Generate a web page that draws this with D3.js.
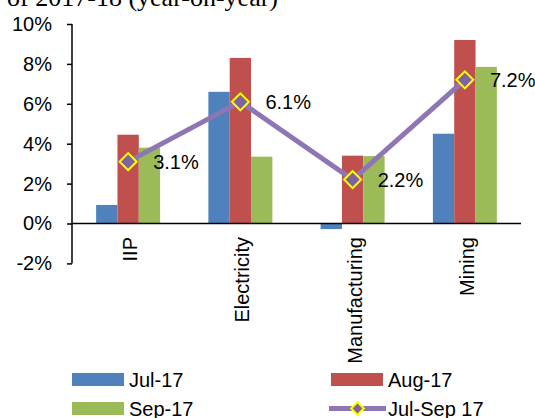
<!DOCTYPE html>
<html>
<head>
<meta charset="utf-8">
<script src="https://cdn.jsdelivr.net/npm/d3@7"></script>
<style>
  body { margin: 0; background: #fff; }
  svg { display: block; font-family: "Liberation Sans", Arial, sans-serif; }
</style>
</head>
<body>
<svg class="chart"></svg>
<script>
var svgWidth = 535, svgHeight = 418;

var categories = ['IIP', 'Electricity', 'Manufacturing', 'Mining'];
var jul17 = [0.93, 6.6, -0.28, 4.5];
var aug17 = [4.45, 8.3, 3.4, 9.2];
var sep17 = [3.8, 3.35, 3.38, 7.85];
var julSep17 = [3.1, 6.1, 2.2, 7.2];
var yTicks = [-2, 0, 2, 4, 6, 8, 10];

var barSeries = [
  { name: 'Jul-17', values: jul17, color: '#4F81BD' },
  { name: 'Aug-17', values: aug17, color: '#C0504D' },
  { name: 'Sep-17', values: sep17, color: '#9BBB59' }
];
var lineColor = '#8E76B4', markerFill = '#7F63A1', markerStroke = '#FFFF00';

var svg = d3.select('svg.chart').attr('width', svgWidth).attr('height', svgHeight);

// title, cut at the top of the picture
svg.append('text')
    .attr('x', 278).attr('y', 6)
    .attr('text-anchor', 'end')
    .attr('font-family', '"Liberation Serif", "Times New Roman", serif')
    .attr('font-size', 26)
    .text('Growth in Q2 of 2017-18 (year-on-year)');

var x0 = d3.scaleBand().domain(categories).range([72, 521]);
var x1 = d3.scaleBand().domain(barSeries.map(function(d) { return d.name; }))
    .range([-32, 32]);
var y = d3.scaleLinear().domain([-2, 10]).range([263.4, 24]);

// bars
svg.append('g').selectAll('g')
    .data(barSeries)
    .enter()
    .append('g')
    .attr('fill', function(d) { return d.color; })
    .selectAll('rect')
    .data(function(s) { return s.values.map(function(v, i) { return { s: s.name, c: categories[i], v: v }; }); })
    .enter()
    .append('rect')
    .attr('x', function(d) { return x0(d.c) + x0.bandwidth() / 2 + x1(d.s); })
    .attr('width', x1.bandwidth())
    .attr('y', function(d) { return y(Math.max(0, d.v)); })
    .attr('height', function(d) { return Math.abs(y(d.v) - y(0)); });

// y axis
var yAxis = d3.axisLeft(y)
    .tickValues(yTicks)
    .tickSize(5)
    .tickPadding(15)
    .tickFormat(function(d) { return d + '%'; });
var gy = svg.append('g').attr('transform', 'translate(72,0)').call(yAxis);
gy.select('.domain').attr('stroke', '#000').attr('stroke-width', 1.5).attr('d', 'M0,' + y(-2) + 'V' + y(10));
gy.selectAll('.tick line').attr('stroke', '#000').attr('stroke-width', 1.5);
gy.selectAll('.tick text').attr('font-size', 20).attr('fill', '#000')
    .attr('font-family', '"Liberation Sans", Arial, sans-serif');

// x axis at zero
svg.append('line')
    .attr('x1', 72).attr('x2', 521)
    .attr('y1', y(0)).attr('y2', y(0))
    .attr('stroke', '#000').attr('stroke-width', 1.5);

svg.append('g').selectAll('text')
    .data(categories)
    .enter()
    .append('text')
    .attr('transform', function(d) { return 'translate(' + (x0(d) + x0.bandwidth() / 2 + 2) + ',237) rotate(-90)'; })
    .attr('text-anchor', 'end')
    .attr('dy', '0.35em')
    .attr('font-size', 20)
    .text(function(d) { return d; });

// line series
var pts = julSep17.map(function(v, i) { return { c: categories[i], v: v }; });
var line = d3.line()
    .x(function(d) { return x0(d.c) + x0.bandwidth() / 2; })
    .y(function(d) { return y(d.v); });

svg.append('path')
    .datum(pts)
    .attr('d', line)
    .attr('fill', 'none')
    .attr('stroke', lineColor)
    .attr('stroke-width', 5);

var diamond = d3.symbol().type(d3.symbolSquare).size(144);
svg.append('g').selectAll('path')
    .data(pts)
    .enter()
    .append('path')
    .attr('d', diamond)
    .attr('transform', function(d) { return 'translate(' + (x0(d.c) + x0.bandwidth() / 2) + ',' + y(d.v) + ') rotate(45)'; })
    .attr('fill', markerFill)
    .attr('stroke', markerStroke)
    .attr('stroke-width', 2);

svg.append('g').selectAll('text')
    .data(pts)
    .enter()
    .append('text')
    .attr('x', function(d) { return x0(d.c) + x0.bandwidth() / 2 + 25; })
    .attr('y', function(d) { return y(d.v); })
    .attr('dy', '0.35em')
    .attr('font-size', 20)
    .text(function(d) { return d.v.toFixed(1) + '%'; });

// legend
var legendItems = [
  { name: 'Jul-17', color: barSeries[0].color, x: 72, y: 373 },
  { name: 'Aug-17', color: barSeries[1].color, x: 331, y: 373 },
  { name: 'Sep-17', color: barSeries[2].color, x: 72, y: 402 }
];
var legend = svg.append('g').attr('class', 'legend');
legend.selectAll('rect')
    .data(legendItems)
    .enter()
    .append('rect')
    .attr('x', function(d) { return d.x; })
    .attr('y', function(d) { return d.y; })
    .attr('width', 52).attr('height', 13)
    .attr('fill', function(d) { return d.color; });
legend.selectAll('text.sw')
    .data(legendItems)
    .enter()
    .append('text')
    .attr('class', 'sw')
    .attr('x', function(d) { return d.x + 57; })
    .attr('y', function(d) { return d.y + 6.5; })
    .attr('dy', '0.35em')
    .attr('font-size', 20)
    .text(function(d) { return d.name; });

legend.append('line')
    .attr('x1', 329).attr('x2', 386)
    .attr('y1', 408.5).attr('y2', 408.5)
    .attr('stroke', lineColor).attr('stroke-width', 5);
legend.append('path')
    .attr('d', d3.symbol().type(d3.symbolSquare).size(80))
    .attr('transform', 'translate(357.5,408.5) rotate(45)')
    .attr('fill', markerFill)
    .attr('stroke', markerStroke)
    .attr('stroke-width', 2);
legend.append('text')
    .attr('x', 388).attr('y', 408.5)
    .attr('dy', '0.35em')
    .attr('font-size', 20)
    .text('Jul-Sep 17');
</script>
</body>
</html>
